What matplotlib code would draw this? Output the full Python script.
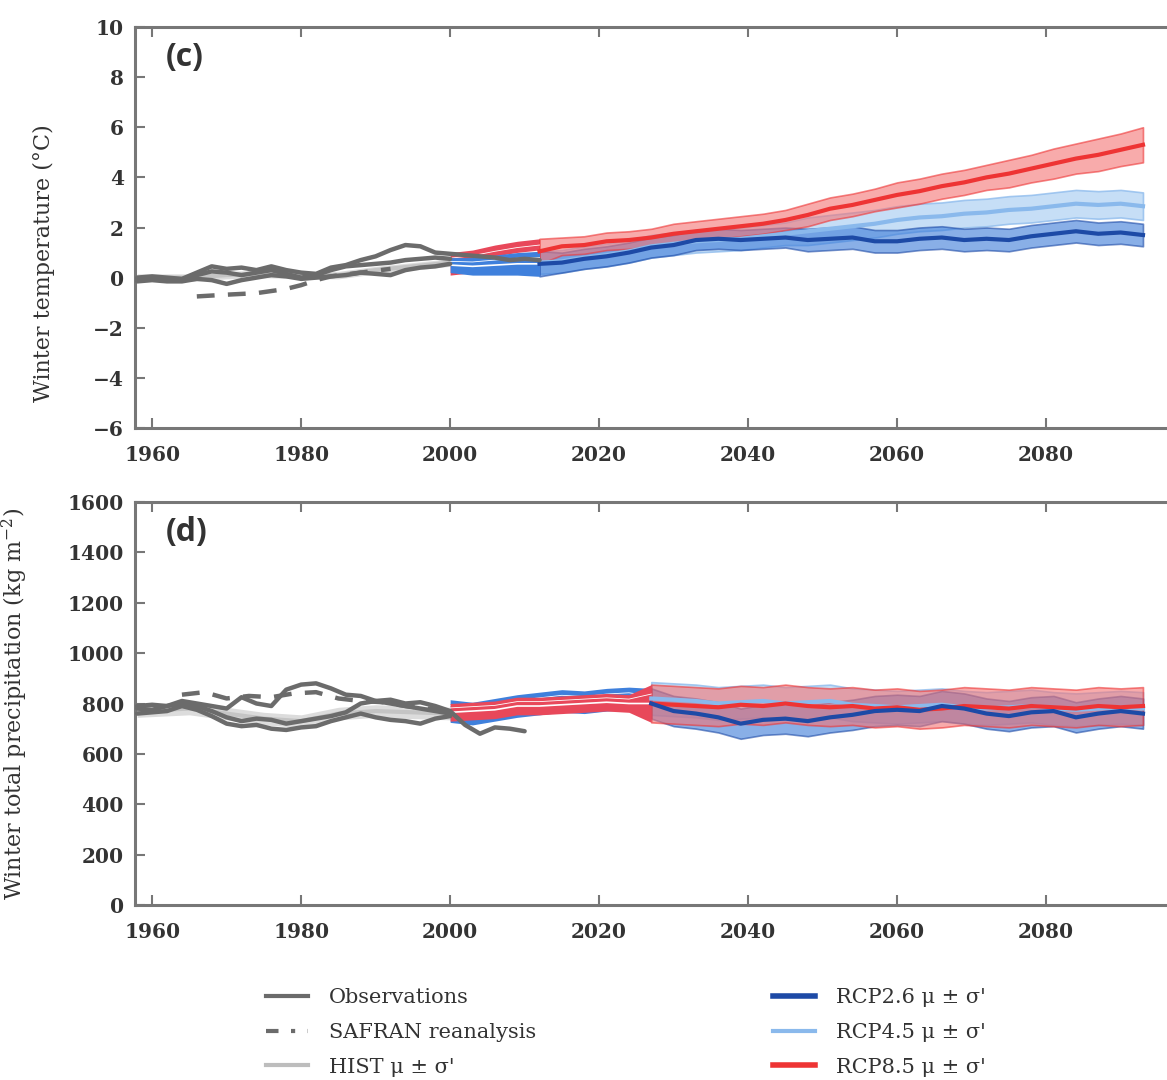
import numpy as np
import matplotlib
matplotlib.use("Agg")
import matplotlib.pyplot as plt
from matplotlib.lines import Line2D

plt.rcParams['font.family'] = ['DejaVu Serif']
plt.rcParams['mathtext.fontset'] = 'dejavuserif'

# ---- observed / historical (c: temperature, d: precipitation) ----
obs_yrs = list(range(1958, 2001, 2))
obs_yrs_t_long = list(range(1958, 2013, 2))
obs_yrs_p_long = list(range(1958, 2011, 2))

t_obs_a = [0.0, 0.05, 0.0, -0.05, 0.2, 0.45, 0.35, 0.4, 0.3, 0.45, 0.3, 0.2, 0.15, 0.4,
           0.5, 0.7, 0.85, 1.1, 1.3, 1.25, 1.0, 0.95, 0.9, 0.85, 0.8, 0.7, 0.75, 0.7]
t_obs_b = [-0.05, 0.0, -0.1, -0.1, 0.1, 0.25, 0.2, 0.1, 0.2, 0.3, 0.15, 0.0, 0.1, 0.3,
           0.45, 0.5, 0.55, 0.6, 0.7, 0.75, 0.8, 0.75]
t_obs_c = [-0.15, -0.1, -0.15, -0.15, -0.05, -0.1, -0.25, -0.1, 0.0, 0.1, 0.05, -0.05, 0.0,
           0.05, 0.1, 0.2, 0.15, 0.1, 0.3, 0.4, 0.45, 0.55]
safran_t_yrs = [1966, 1970, 1974, 1978, 1980, 1982, 1984, 1988, 1992]
safran_t = [-0.75, -0.68, -0.62, -0.45, -0.3, -0.1, 0.05, 0.2, 0.35]
hist_yrs = [1958, 1965, 1970, 1975, 1980, 1985, 1990, 1995, 2000]
hist_t = [0.0, 0.0, 0.1, 0.15, 0.1, 0.1, 0.3, 0.45, 0.6]
hist_t_sd = [0.15, 0.15, 0.15, 0.15, 0.15, 0.15, 0.15, 0.15, 0.15]

p_obs_a = [780, 775, 790, 800, 790, 770, 745, 730, 740, 735, 720, 730, 740, 750,
           765, 800, 810, 815, 800, 805, 790, 770, 715, 680, 705, 700, 690]
p_obs_b = [790, 795, 790, 810, 800, 790, 780, 825, 800, 790, 855, 875, 880, 860,
           835, 830, 810, 800, 790, 780, 770, 760]
p_obs_c = [760, 765, 770, 790, 775, 750, 720, 710, 715, 700, 695, 705, 710, 730,
           745, 760, 745, 735, 730, 720, 740, 750]
safran_p_yrs = [1964, 1967, 1970, 1973, 1976, 1979, 1982, 1985, 1988, 1991, 1994, 1997, 2000]
safran_p = [835, 845, 820, 830, 825, 840, 845, 820, 810, 805, 790, 780, 770]
hist_p = [770, 780, 760, 740, 730, 760, 770, 765, 760]
hist_p_sd = [25, 25, 25, 25, 25, 25, 25, 25, 25]

# ---- projections ----
fut_yrs = list(range(2000, 2094, 3))

t26_mu = [0.5, 0.45, 0.5, 0.55, 0.55, 0.6, 0.75, 0.85, 1.0, 1.2, 1.3, 1.5, 1.55, 1.5, 1.55, 1.6,
          1.5, 1.55, 1.6, 1.45, 1.45, 1.55, 1.6, 1.5, 1.55, 1.5, 1.65, 1.75, 1.85, 1.75, 1.8, 1.7]
t26_sd = [0.3, 0.35, 0.4, 0.45, 0.5] + [0.4] * 11 + [0.45] * 16
t45_mu = [0.45, 0.5, 0.55, 0.6, 0.6, 0.65, 0.8, 0.9, 1.05, 1.25, 1.35, 1.45, 1.5, 1.55, 1.65, 1.75,
          1.85, 1.95, 2.05, 2.15, 2.3, 2.4, 2.45, 2.55, 2.6, 2.7, 2.75, 2.85, 2.95, 2.9, 2.95, 2.85]
t45_sd = [0.45] * 16 + [0.55] * 16
t85_mu = [0.55, 0.65, 0.8, 0.95, 1.05, 1.25, 1.3, 1.45, 1.5, 1.6, 1.75, 1.85, 1.95, 2.05, 2.15, 2.3,
          2.5, 2.75, 2.9, 3.1, 3.3, 3.45, 3.65, 3.8, 4.0, 4.15, 4.35, 4.55, 4.75, 4.9, 5.1, 5.3]
t85_sd = [0.45, 0.45, 0.5, 0.5, 0.5, 0.35, 0.35, 0.35, 0.35, 0.35, 0.4, 0.4, 0.4, 0.4, 0.4, 0.4,
          0.45, 0.45, 0.45, 0.45, 0.5, 0.5, 0.5, 0.5, 0.5, 0.55, 0.55, 0.6, 0.6, 0.65, 0.65, 0.7]

p26_mu = [770, 760, 775, 790, 800, 810, 805, 815, 820, 800, 770, 760, 745, 720, 735, 740,
          730, 745, 755, 770, 775, 770, 790, 780, 760, 750, 765, 770, 745, 760, 770, 760]
p26_sd = [45] * 9 + [60] * 23
p45_mu = [780, 790, 800, 805, 815, 820, 825, 830, 825, 820, 815, 810, 800, 805, 810, 800,
          805, 810, 795, 790, 785, 790, 795, 785, 780, 785, 790, 780, 775, 780, 785, 780]
p45_sd = [45] * 9 + [65] * 23
p85_mu = [765, 770, 775, 790, 790, 795, 800, 805, 800, 800, 795, 790, 785, 795, 790, 800,
          790, 785, 790, 780, 785, 775, 780, 790, 785, 780, 790, 785, 780, 790, 785, 790]
p85_sd = [35] * 9 + [75] * 23

GRAY = '#6b6b6b'
C26_BAND, C26_LINE, C26_EARLY = '#3a7ad8', '#1d4aa6', '#3f80dc'
C45_BAND, C45_LINE = '#b3d3f4', '#8ab9ec'
C85_BAND, C85_LINE, C85_EARLY = '#f47474', '#ee3434', '#e8485a'
TXT = '#333333'


def draw_panel(ax, obs_sets, safran, hist, rcps, split, early_order):
    yrs = np.array(fut_yrs)
    # historical band
    h_mu, h_sd = np.array(hist[0]), np.array(hist[1])
    ax.fill_between(hist_yrs, h_mu - h_sd, h_mu + h_sd, color='#dcdcdc', lw=0, zorder=1)
    ax.plot(hist_yrs, h_mu, color='#c4c4c4', lw=3, zorder=1.5)
    # observations
    for x, y in obs_sets:
        ax.plot(x, y, color=GRAY, lw=3.2, zorder=3, solid_capstyle='round')
    ax.plot(safran[0], safran[1], color=GRAY, lw=3.2, ls=(0, (4, 3)), zorder=3)

    early = yrs <= split
    late = yrs >= split
    cols = {'85': C85_EARLY, '26': C26_EARLY}
    # early segment: saturated bands with white streaks
    for i, key in enumerate(early_order):
        mu, sd = np.array(rcps[key][0]), np.array(rcps[key][1])
        z = 2 + 0.1 * i
        ax.fill_between(yrs[early], (mu - sd)[early], (mu + sd)[early], color=cols[key],
                        lw=0, zorder=z)
        ax.plot(yrs[early], mu[early], color='white', lw=1.2, zorder=z + 0.05)
        ax.plot(yrs[early], (mu + 0.5 * sd)[early], color='white', lw=0.6, zorder=z + 0.05)
    # late segment: translucent bands, mean lines above all bands
    for key, band, line, a in [('45', C45_BAND, C45_LINE, 0.75),
                               ('26', C26_BAND, C26_LINE, 0.6),
                               ('85', C85_BAND, C85_LINE, 0.6)]:
        mu, sd = np.array(rcps[key][0]), np.array(rcps[key][1])
        ax.fill_between(yrs[late], (mu - sd)[late], (mu + sd)[late], color=band, alpha=a,
                        lw=1.2, edgecolor=line, zorder=2)
    for key, line in [('45', C45_LINE), ('85', C85_LINE), ('26', C26_LINE)]:
        mu = np.array(rcps[key][0])
        ax.plot(yrs[late], mu[late], color=line, lw=3, zorder=2.5)


fig = plt.figure(figsize=(11.67, 10.8), dpi=100)
W, H = 1167, 1080
xmin = 1957.7
xmax = xmin + 1040 / 7.45

ax_c = fig.add_axes([135 / W, (H - 428) / H, 1040 / W, 401 / H])
ax_d = fig.add_axes([135 / W, (H - 905) / H, 1040 / W, 403 / H])

draw_panel(ax_c,
           [(obs_yrs_t_long, t_obs_a), (obs_yrs, t_obs_b), (obs_yrs, t_obs_c)],
           (safran_t_yrs, safran_t), (hist_t, hist_t_sd),
           {'26': (t26_mu, t26_sd), '45': (t45_mu, t45_sd), '85': (t85_mu, t85_sd)},
           2012, ['85', '26'])
draw_panel(ax_d,
           [(obs_yrs_p_long, p_obs_a), (obs_yrs, p_obs_b), (obs_yrs, p_obs_c)],
           (safran_p_yrs, safran_p), (hist_p, hist_p_sd),
           {'26': (p26_mu, p26_sd), '45': (p45_mu, p45_sd), '85': (p85_mu, p85_sd)},
           2027, ['26', '85'])

ax_c.set_ylim(-6, 10)
ax_c.set_yticks(range(-6, 11, 2))
ax_d.set_ylim(0, 1600)
ax_d.set_yticks(range(0, 1601, 200))

for ax, lab in [(ax_c, '(c)'), (ax_d, '(d)')]:
    ax.set_xlim(xmin, xmax)
    ax.set_xticks(range(1960, 2081, 20))
    ax.tick_params(direction='in', top=True, right=False, length=7, width=1.5,
                   color='#777777', labelsize=14.5, labelcolor=TXT)
    ax.tick_params(axis='x', pad=12)
    ax.tick_params(axis='y', pad=8)
    for t in ax.get_xticklabels() + ax.get_yticklabels():
        t.set_fontweight('bold')
    for s in ax.spines.values():
        s.set_color('#777777')
        s.set_linewidth(2.2)
    ax.text(0.03, 0.965, lab, transform=ax.transAxes, ha='left', va='top',
            fontsize=23, fontweight='bold', family='Open Sans', color=TXT)

ax_c.set_ylabel('Winter temperature (°C)', fontsize=16, color=TXT)
ax_c.yaxis.set_label_coords(-0.077, 0.41)
ax_d.set_ylabel('Winter total precipitation (kg m$^{-2}$)', fontsize=16, color=TXT)
ax_d.yaxis.set_label_coords(-0.101, 0.5)

h_left = [Line2D([], [], color=GRAY, lw=3),
          Line2D([], [], color=GRAY, lw=3, ls=(0, (3, 3, 1, 3))),
          Line2D([], [], color='#bdbdbd', lw=3)]
l_left = ['Observations', 'SAFRAN reanalysis', "HIST μ ± σ'"]
h_right = [Line2D([], [], color=C26_LINE, lw=4),
           Line2D([], [], color=C45_LINE, lw=3),
           Line2D([], [], color=C85_LINE, lw=4)]
l_right = ["RCP2.6 μ ± σ'", "RCP4.5 μ ± σ'", "RCP8.5 μ ± σ'"]

for hs, ls, x0 in [(h_left, l_left, 258), (h_right, l_right, 765)]:
    leg = fig.legend(hs, ls, loc='upper left', bbox_to_anchor=(x0 / W, 1 - 980 / H),
                     frameon=False, fontsize=15, handlelength=2.0, labelspacing=0.75,
                     borderaxespad=0, handletextpad=1.0)
    for t in leg.get_texts():
        t.set_color(TXT)

fig.savefig('out.png', dpi=100)
